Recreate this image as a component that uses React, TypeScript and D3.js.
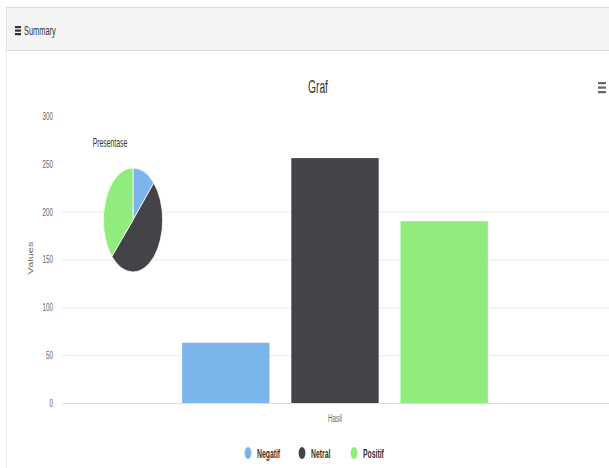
import React from "react";
import * as d3 from "d3";

const categories = ["Hasil"];
const seriesNames = ["Negatif", "Netral", "Positif"];
const seriesValues = [63, 256, 190];
const seriesColors = ["#7cb5ec", "#434348", "#90ed7d"];
const yTicks = [0, 50, 100, 150, 200, 250, 300];
const gridTicks = [0, 50, 100, 150, 200];

const W = 609;
const H = 468;
const SX = 0.57; // horizontal squeeze of the reference
const vx = (x: number) => x / SX;

export default function App() {
  const y = d3.scaleLinear().domain([0, 300]).range([403, 116]);
  const x0 = d3.scaleBand<string>().domain(categories).range([vx(62), vx(608)]).paddingInner(0).paddingOuter(0);
  const bw = x0.bandwidth();
  const x1 = d3
    .scaleBand<string>()
    .domain(seriesNames)
    .range([0.2 * bw, 0.8 * bw])
    .paddingInner(0.2)
    .paddingOuter(0.1);

  const pieData = d3.pie<number>().sort(null).value((d) => d)(seriesValues);
  const arc = d3.arc<d3.PieArcDatum<number>>().innerRadius(0).outerRadius(52);

  const font = "'Liberation Sans', Arial, sans-serif";
  const legendX = [vx(248), vx(302), vx(354)];

  return (
    <svg
      width={W}
      height={H}
      style={{ position: "absolute", left: 0, top: 0, display: "block" }}
      fontFamily={font}
    >
      <rect x={0} y={0} width={W} height={H} fill="#fff" />
      <g transform={`scale(${SX},1)`}>
        {/* panel */}
        <rect x={vx(6.5)} y={7.5} width={vx(620)} height={470} fill="#fff" stroke="#e3e3e3" />
        <rect x={vx(6.5)} y={7.5} width={vx(620)} height={43} fill="#f4f4f4" stroke="#dcdcdc" />
        {[0, 1, 2].map((i) => (
          <rect key={i} x={vx(15)} y={26 + i * 3.5} width={vx(6)} height={2.2} fill="#333" />
        ))}
        <text x={vx(24)} y={35} fontSize={13} fill="#333">
          Summary
        </text>

        {/* title */}
        <text x={vx(318)} y={93} fontSize={18} textAnchor="middle" fill="#333">
          Graf
        </text>
        {[0, 1, 2].map((i) => (
          <rect key={i} x={vx(598)} y={82 + i * 4.5} width={vx(8)} height={2.2} fill="#666" />
        ))}

        {/* grid */}
        {gridTicks.map((t) => (
          <line key={t} x1={vx(62)} x2={vx(609)} y1={y(t) + 0.5} y2={y(t) + 0.5} stroke={t === 0 ? "#ccd6eb" : "#e6e6e6"} />
        ))}
        {yTicks.map((t) => (
          <text key={t} x={vx(53)} y={y(t) + 4} fontSize={11} textAnchor="end" fill="#666">
            {t}
          </text>
        ))}
        <text
          transform={`translate(${vx(33)},258) rotate(-90)`}
          fontSize={11}
          textAnchor="middle"
          fill="#666"
        >
          Values
        </text>

        {/* bars */}
        {categories.map((c) => (
          <g key={c} transform={`translate(${x0(c)},0)`}>
            {seriesNames.map((s, i) => (
              <rect
                key={s}
                x={x1(s)}
                y={y(seriesValues[i])}
                width={x1.bandwidth()}
                height={y(0) - y(seriesValues[i])}
                fill={seriesColors[i]}
              />
            ))}
            <text x={bw / 2} y={422} fontSize={11} textAnchor="middle" fill="#666">
              {c}
            </text>
          </g>
        ))}

        {/* pie */}
        <text x={vx(110)} y={147} fontSize={12} textAnchor="middle" fill="#333">
          Presentase
        </text>
        <g transform={`translate(${vx(133)},220)`}>
          {pieData.map((d, i) => (
            <path key={i} d={arc(d) || ""} fill={seriesColors[i]} stroke="#fff" strokeWidth={1} />
          ))}
        </g>

        {/* legend */}
        {seriesNames.map((s, i) => (
          <g key={s} transform={`translate(${legendX[i]},453)`}>
            <circle cx={0} cy={0} r={6} fill={seriesColors[i]} />
            <text x={vx(9)} y={4.5} fontSize={12} fontWeight="bold" fill="#333">
              {s}
            </text>
          </g>
        ))}
      </g>
    </svg>
  );
}
